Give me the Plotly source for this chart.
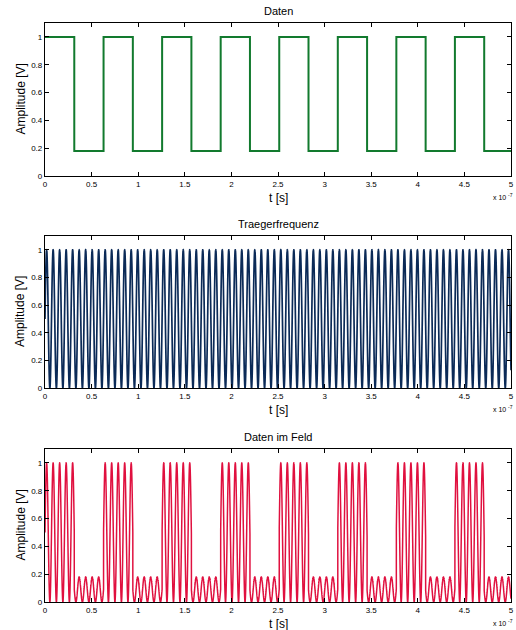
import numpy as np
import plotly.graph_objects as go

# ---- data (time in units of 1e-7 s) ----
data_edges = [0, 0.3142, 0.6283, 0.9425, 1.2566, 1.5708, 1.8850, 2.1991, 2.5133,
              2.8274, 3.1416, 3.4558, 3.7699, 4.0841, 4.3982, 4.7124, 5.0]
data_levels = [1, 0.18, 1, 0.18, 1, 0.18, 1, 0.18,
               1, 0.18, 1, 0.18, 1, 0.18, 1, 0.18]
carrier_period = 0.0698      # one carrier cycle, units of 1e-7 s
carrier_offset = 0.5
carrier_amp = 0.5
x_ticks = [0, 0.5, 1, 1.5, 2, 2.5, 3, 3.5, 4, 4.5, 5]
x_tick_labels = ["0", "0.5", "1", "1.5", "2", "2.5", "3", "3.5", "4", "4.5", "5"]
y_ticks = [0, 0.2, 0.4, 0.6, 0.8, 1]
y_tick_labels = ["0", "0.2", "0.4", "0.6", "0.8", "1"]
titles = ["Daten", "Traegerfrequenz", "Daten im Feld"]

# square wave drawn as steps
step_x = data_edges
step_y = data_levels + [data_levels[-1]]

# carrier and modulated field
t = np.linspace(0, 5, 20001)
carrier = carrier_offset + carrier_amp * np.sin(2 * np.pi * t / carrier_period)
idx = np.clip(np.searchsorted(np.array(data_edges), t, side="right") - 1, 0, len(data_levels) - 1)
field = np.array(data_levels)[idx] * carrier

W, H = 516, 630
ml, mr, mt, mb = 45, 5, 23, 28
pw = W - ml - mr
ph = H - mt - mb
FAM = "Liberation Sans, Arial, sans-serif"

def dom(top_px, bot_px):
    return [(H - mb - bot_px) / ph, (H - mb - top_px) / ph]

def py(px):
    return (H - mb - px) / ph

def px_x(px):
    return (px - ml) / pw

boxes = [(23, 176), (236, 388), (449, 602)]
fig = go.Figure()
fig.add_trace(go.Scatter(x=step_x, y=step_y, mode="lines", line_shape="hv",
                         line=dict(color="#127a2e", width=2), xaxis="x", yaxis="y"))
fig.add_trace(go.Scatter(x=t, y=carrier, mode="lines",
                         line=dict(color="#0b2a57", width=1.7, simplify=False),
                         xaxis="x2", yaxis="y2"))
fig.add_trace(go.Scatter(x=t, y=field, mode="lines",
                         line=dict(color="#e0103f", width=1.5, simplify=False),
                         xaxis="x3", yaxis="y3"))

axfont = dict(family=FAM, size=8, color="black")
layout = dict(width=W, height=H, showlegend=False,
              margin=dict(l=ml, r=mr, t=mt, b=mb, autoexpand=False),
              paper_bgcolor="white", plot_bgcolor="white",
              font=dict(family=FAM, size=11, color="black"))
annotations = []
for i, (tp, bp) in enumerate(boxes):
    sx = "" if i == 0 else str(i + 1)
    layout["xaxis" + sx] = dict(
        domain=[0, 1], anchor="y" + sx, range=[0, 5], automargin=False,
        tickvals=x_ticks, ticktext=x_tick_labels, ticks="inside", ticklen=4,
        tickcolor="black", showline=True, linecolor="black", linewidth=1.2,
        mirror="ticks", showgrid=False, zeroline=False, tickfont=axfont)
    layout["yaxis" + sx] = dict(
        domain=dom(tp, bp), anchor="x" + sx, range=[0, 1.1], automargin=False,
        tickvals=y_ticks, ticktext=y_tick_labels, ticks="inside", ticklen=4,
        tickcolor="black", showline=True, linecolor="black", linewidth=1.2,
        mirror="ticks", showgrid=False, zeroline=False, tickfont=axfont)
    annotations.append(dict(text=titles[i], x=0.5, xref="paper",
                            y=py(tp - 4), yref="paper",
                            xanchor="center", yanchor="bottom", showarrow=False,
                            font=dict(family=FAM, size=11, color="black")))
    annotations.append(dict(text="t [s]", x=0.5, xref="paper",
                            y=py(bp + 13), yref="paper",
                            xanchor="center", yanchor="top", showarrow=False,
                            font=dict(family=FAM, size=12, color="black")))
    annotations.append(dict(text="Amplitude [V]", x=px_x(20), xref="paper",
                            y=py((tp + bp) / 2), yref="paper",
                            xanchor="center", yanchor="middle", showarrow=False,
                            textangle=-90,
                            font=dict(family=FAM, size=12, color="black")))
    # exponent label "x 10^-7" as two plain texts
    annotations.append(dict(text="x 10", x=px_x(507), xref="paper",
                            y=py(bp + 17), yref="paper",
                            xanchor="right", yanchor="top", showarrow=False,
                            borderpad=0,
                            font=dict(family=FAM, size=7, color="black")))
    annotations.append(dict(text="-7", x=px_x(507), xref="paper",
                            y=py(bp + 15), yref="paper",
                            xanchor="left", yanchor="top", showarrow=False,
                            borderpad=0,
                            font=dict(family=FAM, size=5, color="black")))
layout["annotations"] = annotations
fig.update_layout(**layout)
fig.write_html("out.html", config={"displayModeBar": False},
               post_script="document.body.style.margin='0';"
                           "document.body.style.overflow='hidden';")
